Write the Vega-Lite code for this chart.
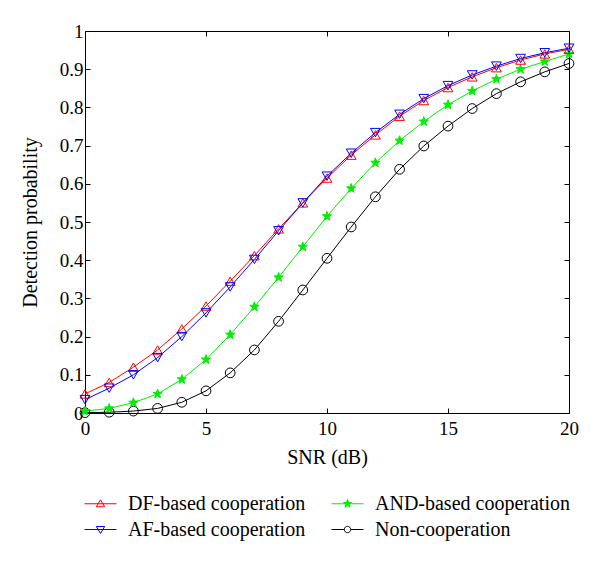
{
  "$schema": "https://vega.github.io/schema/vega-lite/v6.json",
  "width": 484,
  "height": 382,
  "autosize": "none",
  "padding": {"left": 85, "top": 31, "right": 31, "bottom": 148},
  "background": "white",
  "config": {
    "font": "Liberation Serif",
    "view": {"stroke": "black", "strokeWidth": 1},
    "axis": {
      "grid": false,
      "domain": false,
      "labelFlush": false,
      "tickColor": "black",
      "tickSize": -5,
      "labelColor": "black",
      "labelFont": "Liberation Serif",
      "labelFontSize": 19,
      "titleFont": "Liberation Serif",
      "titleFontSize": 20,
      "titleFontWeight": "normal",
      "titleColor": "black"
    }
  },
  "data": {
    "values": [
      {"snr": 0, "series": "Non-cooperation", "pd": 0.001},
      {"snr": 1, "series": "Non-cooperation", "pd": 0.002},
      {"snr": 2, "series": "Non-cooperation", "pd": 0.005},
      {"snr": 3, "series": "Non-cooperation", "pd": 0.012},
      {"snr": 4, "series": "Non-cooperation", "pd": 0.028},
      {"snr": 5, "series": "Non-cooperation", "pd": 0.058},
      {"snr": 6, "series": "Non-cooperation", "pd": 0.105},
      {"snr": 7, "series": "Non-cooperation", "pd": 0.165},
      {"snr": 8, "series": "Non-cooperation", "pd": 0.24},
      {"snr": 9, "series": "Non-cooperation", "pd": 0.322},
      {"snr": 10, "series": "Non-cooperation", "pd": 0.405},
      {"snr": 11, "series": "Non-cooperation", "pd": 0.487},
      {"snr": 12, "series": "Non-cooperation", "pd": 0.566},
      {"snr": 13, "series": "Non-cooperation", "pd": 0.638},
      {"snr": 14, "series": "Non-cooperation", "pd": 0.699},
      {"snr": 15, "series": "Non-cooperation", "pd": 0.751},
      {"snr": 16, "series": "Non-cooperation", "pd": 0.797},
      {"snr": 17, "series": "Non-cooperation", "pd": 0.836},
      {"snr": 18, "series": "Non-cooperation", "pd": 0.867},
      {"snr": 19, "series": "Non-cooperation", "pd": 0.893},
      {"snr": 20, "series": "Non-cooperation", "pd": 0.915},
      {"snr": 0, "series": "AND-based cooperation", "pd": 0.005},
      {"snr": 1, "series": "AND-based cooperation", "pd": 0.012},
      {"snr": 2, "series": "AND-based cooperation", "pd": 0.027},
      {"snr": 3, "series": "AND-based cooperation", "pd": 0.05},
      {"snr": 4, "series": "AND-based cooperation", "pd": 0.088},
      {"snr": 5, "series": "AND-based cooperation", "pd": 0.14},
      {"snr": 6, "series": "AND-based cooperation", "pd": 0.205},
      {"snr": 7, "series": "AND-based cooperation", "pd": 0.278},
      {"snr": 8, "series": "AND-based cooperation", "pd": 0.355},
      {"snr": 9, "series": "AND-based cooperation", "pd": 0.435},
      {"snr": 10, "series": "AND-based cooperation", "pd": 0.515},
      {"snr": 11, "series": "AND-based cooperation", "pd": 0.588},
      {"snr": 12, "series": "AND-based cooperation", "pd": 0.655},
      {"snr": 13, "series": "AND-based cooperation", "pd": 0.713},
      {"snr": 14, "series": "AND-based cooperation", "pd": 0.763},
      {"snr": 15, "series": "AND-based cooperation", "pd": 0.807},
      {"snr": 16, "series": "AND-based cooperation", "pd": 0.843},
      {"snr": 17, "series": "AND-based cooperation", "pd": 0.874},
      {"snr": 18, "series": "AND-based cooperation", "pd": 0.9},
      {"snr": 19, "series": "AND-based cooperation", "pd": 0.92},
      {"snr": 20, "series": "AND-based cooperation", "pd": 0.94},
      {"snr": 0, "series": "DF-based cooperation", "pd": 0.05},
      {"snr": 1, "series": "DF-based cooperation", "pd": 0.08},
      {"snr": 2, "series": "DF-based cooperation", "pd": 0.12},
      {"snr": 3, "series": "DF-based cooperation", "pd": 0.165},
      {"snr": 4, "series": "DF-based cooperation", "pd": 0.22},
      {"snr": 5, "series": "DF-based cooperation", "pd": 0.28},
      {"snr": 6, "series": "DF-based cooperation", "pd": 0.345},
      {"snr": 7, "series": "DF-based cooperation", "pd": 0.412},
      {"snr": 8, "series": "DF-based cooperation", "pd": 0.482},
      {"snr": 9, "series": "DF-based cooperation", "pd": 0.55},
      {"snr": 10, "series": "DF-based cooperation", "pd": 0.615},
      {"snr": 11, "series": "DF-based cooperation", "pd": 0.675},
      {"snr": 12, "series": "DF-based cooperation", "pd": 0.728},
      {"snr": 13, "series": "DF-based cooperation", "pd": 0.777},
      {"snr": 14, "series": "DF-based cooperation", "pd": 0.818},
      {"snr": 15, "series": "DF-based cooperation", "pd": 0.852},
      {"snr": 16, "series": "DF-based cooperation", "pd": 0.88},
      {"snr": 17, "series": "DF-based cooperation", "pd": 0.904},
      {"snr": 18, "series": "DF-based cooperation", "pd": 0.924},
      {"snr": 19, "series": "DF-based cooperation", "pd": 0.94},
      {"snr": 20, "series": "DF-based cooperation", "pd": 0.952},
      {"snr": 0, "series": "AF-based cooperation", "pd": 0.035},
      {"snr": 1, "series": "AF-based cooperation", "pd": 0.065},
      {"snr": 2, "series": "AF-based cooperation", "pd": 0.1},
      {"snr": 3, "series": "AF-based cooperation", "pd": 0.145},
      {"snr": 4, "series": "AF-based cooperation", "pd": 0.2},
      {"snr": 5, "series": "AF-based cooperation", "pd": 0.262},
      {"snr": 6, "series": "AF-based cooperation", "pd": 0.33},
      {"snr": 7, "series": "AF-based cooperation", "pd": 0.402},
      {"snr": 8, "series": "AF-based cooperation", "pd": 0.477},
      {"snr": 9, "series": "AF-based cooperation", "pd": 0.55},
      {"snr": 10, "series": "AF-based cooperation", "pd": 0.62},
      {"snr": 11, "series": "AF-based cooperation", "pd": 0.68},
      {"snr": 12, "series": "AF-based cooperation", "pd": 0.734},
      {"snr": 13, "series": "AF-based cooperation", "pd": 0.782},
      {"snr": 14, "series": "AF-based cooperation", "pd": 0.823},
      {"snr": 15, "series": "AF-based cooperation", "pd": 0.857},
      {"snr": 16, "series": "AF-based cooperation", "pd": 0.885},
      {"snr": 17, "series": "AF-based cooperation", "pd": 0.908},
      {"snr": 18, "series": "AF-based cooperation", "pd": 0.928},
      {"snr": 19, "series": "AF-based cooperation", "pd": 0.943},
      {"snr": 20, "series": "AF-based cooperation", "pd": 0.955}
    ]
  },
  "layer": [
    {
      "mark": {"type": "line", "strokeWidth": 1},
      "encoding": {
        "x": {
          "field": "snr", "type": "quantitative",
          "scale": {"domain": [0, 20], "nice": false},
          "axis": {"orient": "bottom", "title": "SNR (dB)", "values": [0, 5, 10, 15, 20], "labelPadding": 11, "titlePadding": 9}
        },
        "y": {
          "field": "pd", "type": "quantitative",
          "scale": {"domain": [0, 1], "nice": false},
          "axis": {"orient": "left", "title": "Detection probability", "values": [0, 0.1, 0.2, 0.3, 0.4, 0.5, 0.6, 0.7, 0.8, 0.9, 1], "format": "~g", "labelPadding": 7, "titlePadding": 19}
        },
        "color": {
          "field": "series", "type": "nominal",
          "scale": {
            "domain": ["DF-based cooperation", "AF-based cooperation", "AND-based cooperation", "Non-cooperation"],
            "range": ["#ff0000", "#0000ff", "#00ee00", "#000000"]
          },
          "legend": {
            "orient": "none",
            "legendX": 5,
            "legendY": 462,
            "title": null,
            "columns": 2,
            "columnPadding": 23,
            "rowPadding": 5,
            "labelFont": "Liberation Serif",
            "labelFontSize": 20,
            "labelLimit": 400,
            "labelColor": "black",
            "labelOffset": 17,
            "symbolSize": 400,
            "symbolStrokeWidth": 1,
            "symbolFillColor": "transparent",
            "encode": {
              "symbols": {
                "update": {
                  "shape": {"signal": "datum.value === 'DF-based cooperation' ? 'M-1.6,0L1.6,0M0,-0.4L0.42,0.3L-0.42,0.3Z' : datum.value === 'AF-based cooperation' ? 'M-1.6,0L1.6,0M0,0.4L0.42,-0.3L-0.42,-0.3Z' : datum.value === 'Non-cooperation' ? 'M-1.6,0L-0.32,0M0.32,0L1.6,0M0.32,0A0.32,0.32,0,1,1,-0.32,0A0.32,0.32,0,1,1,0.32,0Z' : 'M-1.6,0L1.6,0M0,-0.42L0.099,-0.136L0.4,-0.13L0.16,0.052L0.247,0.34L0,0.168L-0.247,0.34L-0.16,0.052L-0.4,-0.13L-0.099,-0.136Z'"},
                  "fill": {"signal": "datum.value === 'AND-based cooperation' ? '#00ee00' : 'transparent'"}
                }
              }
            }
          }
        }
      }
    },
    {
      "mark": {"type": "point", "strokeWidth": 1, "size": 95, "filled": false, "opacity": 1},
      "encoding": {
        "x": {
          "field": "snr", "type": "quantitative",
          "axis": {"orient": "top", "title": null, "labels": false, "values": [0, 5, 10, 15, 20]}
        },
        "y": {
          "field": "pd", "type": "quantitative",
          "axis": {"orient": "right", "title": null, "labels": false, "values": [0, 0.1, 0.2, 0.3, 0.4, 0.5, 0.6, 0.7, 0.8, 0.9, 1]}
        },
        "color": {"field": "series", "type": "nominal", "legend": null},
        "shape": {
          "field": "series", "type": "nominal", "legend": null,
          "scale": {
            "domain": ["DF-based cooperation", "AF-based cooperation", "AND-based cooperation", "Non-cooperation"],
            "range": ["triangle-up", "triangle-down", "M0,-1L0.235,-0.324L0.951,-0.309L0.38,0.124L0.588,0.809L0,0.4L-0.588,0.809L-0.38,0.124L-0.951,-0.309L-0.235,-0.324Z", "circle"]
          }
        },
        "fill": {
          "field": "series", "type": "nominal", "legend": null,
          "scale": {
            "domain": ["DF-based cooperation", "AF-based cooperation", "AND-based cooperation", "Non-cooperation"],
            "range": ["transparent", "transparent", "#00ee00", "transparent"]
          }
        }
      }
    }
  ],
  "resolve": {"axis": {"x": "independent", "y": "independent"}, "legend": {"color": "independent", "shape": "independent", "fill": "independent"}}
}
